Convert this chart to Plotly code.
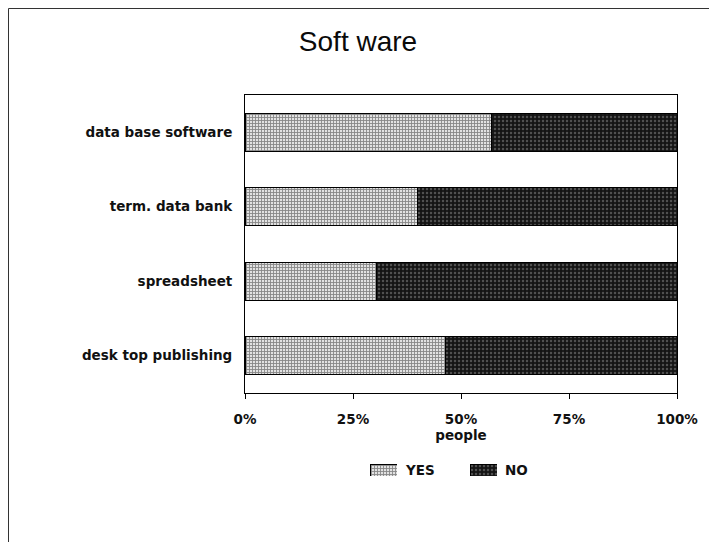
import plotly.graph_objects as go

# Umfrage "Soft ware": Anteil der Antworten je Kategorie (von oben nach unten).
categories = [
    "data base software",
    "term. data bank",
    "spreadsheet",
    "desk top publishing",
]
yes_share = [57, 40, 30.5, 46.5]
no_share = [43, 60, 69.5, 53.5]
x_ticks = [0, 25, 50, 75, 100]
x_tick_labels = ["0%", "25%", "50%", "75%", "100%"]
series_names = ["YES", "NO"]

TITLE_FONT = "Liberation Sans"
LABEL_FONT = "DejaVu Sans"
W, H = 717, 542
# Der Browser setzt 8px Rand um die Seite, daher etwas kleinere Raender links/oben.
L, R, T, B = 237, 48, 87, 40
PW, PH = W - L - R, H - T - B

YES_MARKER = {
    "color": "#ffffff",
    "line": {"color": "#000000", "width": 1},
    "pattern": {
        "shape": "+",
        "fgcolor": "#2a2a2a",
        "bgcolor": "#e2e2e2",
        "size": 3,
        "solidity": 0.5,
    },
}
NO_MARKER = {
    "color": "#111111",
    "line": {"color": "#000000", "width": 1},
    "pattern": {
        "shape": ".",
        "fgcolor": "#8c8c8c",
        "bgcolor": "#141414",
        "size": 4,
        "solidity": 0.3,
    },
}


def _py(fig_y: float) -> float:
    """Figur-Pixel (von oben) -> Anteil der Zeichenflaeche (von unten)."""
    return (T + PH - fig_y) / PH


def _px(fig_x: float) -> float:
    return (fig_x - L) / PW


fig = go.Figure()
fig.add_trace(
    go.Bar(y=categories, x=yes_share, name=series_names[0],
           orientation="h", marker=YES_MARKER, showlegend=False)
)
fig.add_trace(
    go.Bar(y=categories, x=no_share, name=series_names[1],
           orientation="h", marker=NO_MARKER, showlegend=False)
)

# Eigene Legende: breite Muster-Kaestchen auf eigenen Mini-Achsen.
legend_boxes = [(362, 389), (462, 489)]
for i, (name, marker, (x0, x1)) in enumerate(
    zip(series_names, (YES_MARKER, NO_MARKER), legend_boxes), start=2
):
    fig.add_trace(
        go.Bar(x=[name], y=[1], width=1, marker=marker, showlegend=False,
               xaxis=f"x{i}", yaxis=f"y{i}", hoverinfo="skip")
    )
    fig.update_layout({
        f"xaxis{i}": {"domain": [_px(x0), _px(x1)], "anchor": f"y{i}",
                      "visible": False, "fixedrange": True},
        f"yaxis{i}": {"domain": [_py(468), _py(456)], "anchor": f"x{i}",
                      "range": [0, 1], "visible": False, "fixedrange": True},
    })
    fig.add_annotation(
        text=name, xref="paper", yref="paper", x=_px(x1 + 6), y=_py(462),
        xanchor="left", yanchor="middle", showarrow=False,
        font={"family": LABEL_FONT, "size": 13.5, "weight": "bold",
              "color": "#111111"},
    )

# Rahmen um das ganze Bild (rechts/unten ausserhalb abgeschnitten).
fig.add_shape(
    type="rect",
    xref="paper",
    yref="paper",
    x0=_px(0.5),
    x1=_px(W + 10),
    y0=_py(H + 10),
    y1=_py(0.5),
    line={"color": "#333333", "width": 1},
    layer="below",
)

fig.update_layout(
    width=W,
    height=H,
    barmode="stack",
    bargap=0.49,
    showlegend=False,
    margin={"l": L, "r": R, "t": T, "b": B},
    paper_bgcolor="#ffffff",
    plot_bgcolor="#ffffff",
    font={"family": LABEL_FONT, "size": 13, "color": "#111111"},
    title={
        "text": "Soft ware",
        "x": 350 / W,
        "xanchor": "center",
        "y": 1 - 33 / H,
        "yanchor": "middle",
        "font": {"family": TITLE_FONT, "size": 28, "color": "#0a0a0a"},
    },
    xaxis={
        "domain": [0, 1],
        "anchor": "y",
        "range": [0, 100],
        "tickvals": x_ticks,
        "ticktext": x_tick_labels,
        "ticks": "outside",
        "ticklen": 5,
        "tickcolor": "#000000",
        "ticklabelstandoff": 9,
        "showgrid": False,
        "zeroline": False,
        "showline": True,
        "linecolor": "#000000",
        "mirror": True,
        "tickfont": {"family": LABEL_FONT, "size": 13.5, "weight": "bold"},
        "title": {
            "text": "people",
            "standoff": 4,
            "font": {"family": LABEL_FONT, "size": 13.5, "weight": "bold"},
        },
        "fixedrange": True,
    },
    yaxis={
        "domain": [_py(385), 1],
        "anchor": "x",
        "autorange": "reversed",
        "ticks": "",
        "showgrid": False,
        "showline": True,
        "linecolor": "#000000",
        "mirror": True,
        "ticklabelstandoff": 9,
        "tickfont": {"family": LABEL_FONT, "size": 13.5, "weight": "bold"},
        "fixedrange": True,
    },
)

fig.write_html("out.html")
